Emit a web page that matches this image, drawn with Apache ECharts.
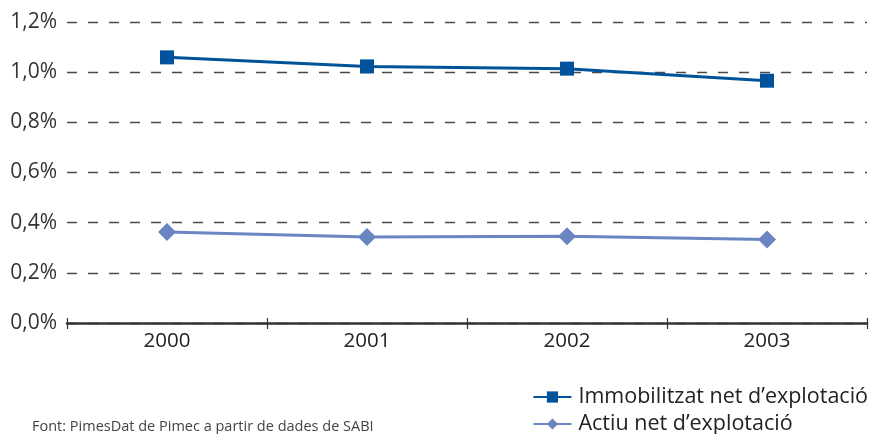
<!DOCTYPE html>
<html>
<head>
<meta charset="utf-8">
<script src="https://cdn.jsdelivr.net/npm/echarts@6/dist/echarts.min.js"></script>
<style>html,body{margin:0;padding:0;background:#fff}#c{width:877px;height:434px}</style>
</head>
<body>
<div id="c"></div>
<script>
var categories = ['2000', '2001', '2002', '2003'];
var immobilitzat = [1.059, 1.023, 1.014, 0.966];
var actiu = [0.363, 0.343, 0.346, 0.333];
var seriesNames = ['Immobilitzat net d\u2019explotació', 'Actiu net d\u2019explotació'];
var sourceText = 'Font: PimesDat de Pimec a partir de dades de SABI';

var FONT = 'Open Sans';
var chart = echarts.init(document.getElementById('c'));
chart.setOption({
  animation: false,
  textStyle: { fontFamily: FONT },
  grid: { left: 67, right: 10, top: 22, bottom: 111, containLabel: false },
  legend: {
    orient: 'vertical', right: 4, top: 381, height: 70,
    itemGap: 5, itemWidth: 38, itemHeight: 14,
    textStyle: { fontFamily: FONT, fontSize: 21.5, color: '#222', padding: [0, 0, 0, 2] },
    data: seriesNames
  },
  graphic: [{
    type: 'text', left: 32, top: 419,
    style: { text: sourceText, font: '14.5px "Open Sans"', fill: '#444' }
  }],
  xAxis: [{
    type: 'category', data: categories, boundaryGap: true,
    axisLine: { lineStyle: { color: '#333', width: 2.5 } },
    axisTick: { show: true, length: 6, lineStyle: { color: '#333', width: 1.2 } },
    axisLabel: { fontSize: 20.5, color: '#222', margin: 8 },
    splitLine: { show: false }
  }, {
    type: 'category', data: categories, boundaryGap: true, position: 'bottom',
    axisLine: { show: false },
    axisTick: { show: true, inside: true, length: 5, lineStyle: { color: '#333', width: 1.2 } },
    axisLabel: { show: false }
  }],
  yAxis: {
    type: 'value', min: 0, max: 1.2, interval: 0.2,
    axisLine: { show: false }, axisTick: { show: false },
    axisLabel: {
      fontSize: 21, color: '#333', margin: 10,
      formatter: function (v) { return v.toFixed(1).replace('.', ',') + '%'; }
    },
    splitLine: { show: true, lineStyle: { color: '#4a4a4a', width: 1.4, type: [10, 11] } }
  },
  series: [{
    name: seriesNames[0], type: 'line', data: immobilitzat,
    symbol: 'rect', symbolSize: 14,
    lineStyle: { color: '#00529B', width: 3 },
    itemStyle: { color: '#00529B' }
  }, {
    name: seriesNames[1], type: 'line', data: actiu,
    symbol: 'diamond', symbolSize: 18,
    lineStyle: { color: '#6A86C2', width: 3 },
    itemStyle: { color: '#6A86C2' }
  }]
});
</script>
</body>
</html>
